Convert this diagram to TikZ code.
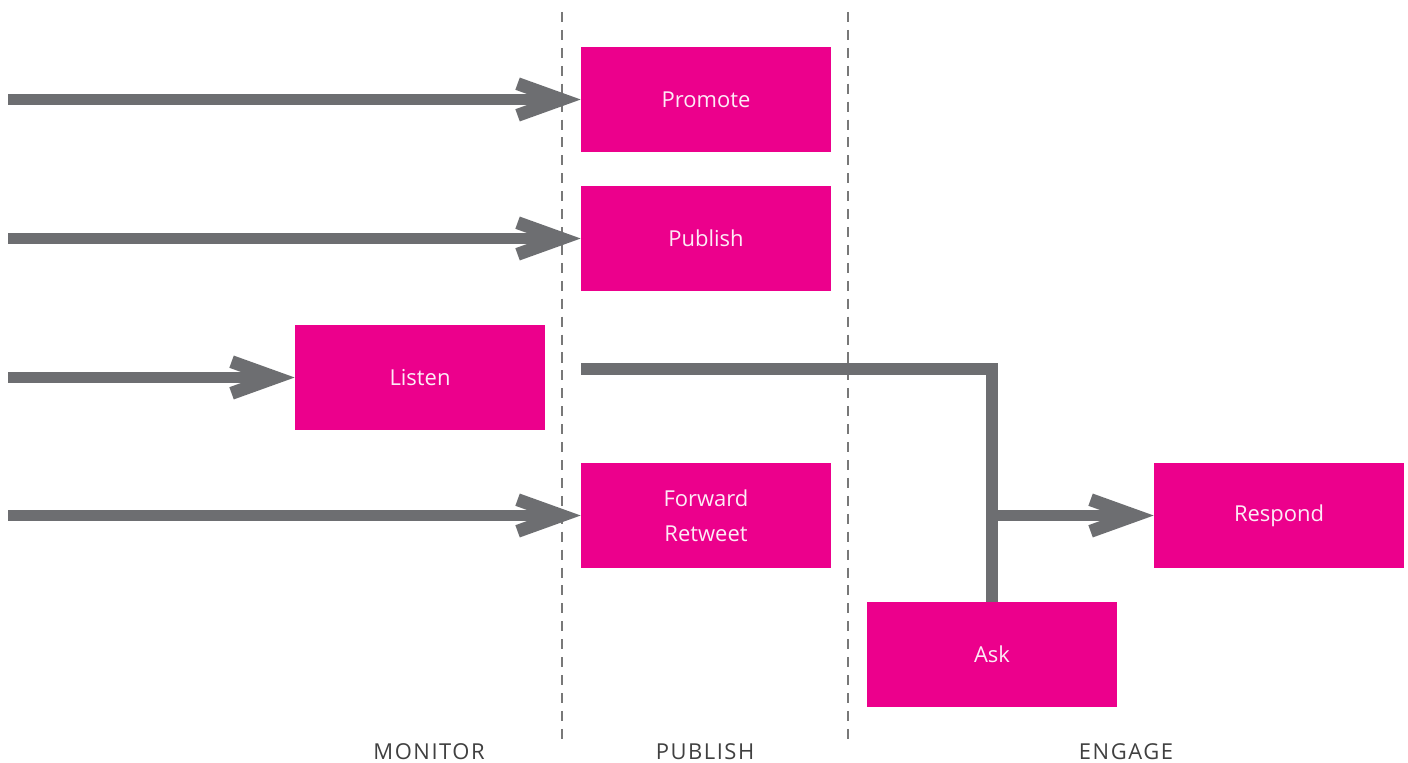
\documentclass[tikz,border=0pt]{standalone}
\usepackage{fontspec}
\setmainfont{Open Sans}
\newfontfamily\stagefont[LetterSpace=7]{Open Sans}
\usepackage{tikz}
\usetikzlibrary{positioning,calc,arrows.meta}
\definecolor{hotpink}{RGB}{236,0,140}
\definecolor{flowgray}{RGB}{109,110,113}
\definecolor{divgray}{RGB}{120,120,120}
\definecolor{stagegray}{RGB}{64,64,64}

\begin{document}
\begin{tikzpicture}[
    x=0.02cm, y=-0.02cm,
    actbox/.style={fill=hotpink, draw=none, minimum width=5cm, minimum height=2.1cm,
        inner sep=0pt, align=center, text=white!92!hotpink,
        font=\fontsize{12.5}{20}\selectfont},
    flow/.style={draw=flowgray, line width=0.23cm},
    flowarr/.style={flow, -{Straight Barb[sharp, length=25pt, width=18pt, line width=7.4pt]}},
    divider/.style={draw=divgray, line width=0.6pt, dash pattern=on 5.7pt off 4.5pt},
    stage/.style={font=\stagefont\fontsize{12.5}{14}\selectfont, text=stagegray},
]
\useasboundingbox (0,0) rectangle (1408,763);

% swimlane dividers
\draw[divider] (562,12) -- (562,742);
\draw[divider] (848,12) -- (848,742);

% activities
\node[actbox] (promote) at (706,99.5) {Promote};
\node[actbox] (publish) at (706,238.5) {Publish};
\node[actbox] (listen) at (420,377.5) {Listen};
\node[actbox] (forward) at (706,515.5) {Forward\\Retweet};
\node[actbox] (respond) at (1279,515.5) {Respond};
\node[actbox] (ask) at (992,654.5) {Ask};

% incoming flows
\coordinate (in1) at (8,99.5);
\coordinate (in2) at (8,238.5);
\coordinate (in3) at (8,377.5);
\coordinate (in4) at (8,515.5);
\draw[flowarr] (in1) -- (promote);
\draw[flowarr] (in2) -- (publish);
\draw[flowarr] (in3) -- (listen);
\draw[flowarr] (in4) -- (forward);

% engage branch
\coordinate (tap) at (581,369);
\coordinate (split) at (ask.north |- respond.west);
\draw[flow] (ask.north) |- (tap);
\draw[flowarr] (split) -- (respond);

% lane labels
\node[stage] (monitorlbl) at (429,752) {MONITOR};
\node[stage] (publishlbl) at (705,752) {PUBLISH};
\node[stage] (engagelbl) at (1126,752) {ENGAGE};
\end{tikzpicture}
\end{document}
